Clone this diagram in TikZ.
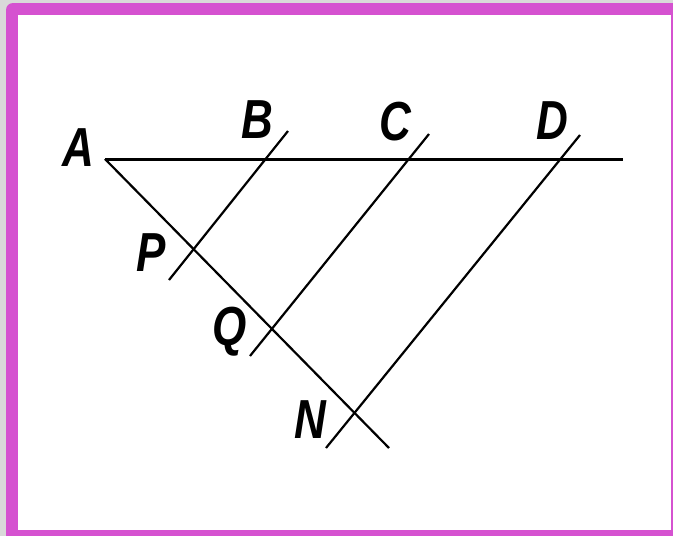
\documentclass[tikz,border=0pt]{standalone}
\usepackage{fontspec}
\setmainfont{Liberation Sans}
\definecolor{framepink}{RGB}{213,82,208}
\tikzset{
	pt label/.style={inner sep=0pt,font=\fontsize{44}{44}\selectfont\bfseries\itshape},
	segment/.style={line width=2.2pt},
}
\newcommand{\tallletter}[1]{\scalebox{1}[1.25]{#1}}

\begin{document}
\begin{tikzpicture}[x=1pt,y=-1pt]
	\useasboundingbox (0,0) rectangle (673,536);
	% frame
	\fill[gray!30] (0,0) rectangle (673,536);
	\fill[framepink,rounded corners=7pt] (6,570) rectangle (710,3);
	\fill[white] (18,15) rectangle (670.5,529.5);
	% points
	\coordinate (A) at (105,159);
	\coordinate (E) at (623,159);
	\coordinate (F) at (389,448);
	\coordinate (B) at (288,131);
	\coordinate (C) at (429,134);
	\coordinate (D) at (580,135);
	\coordinate (P) at (169,280);
	\coordinate (Q) at (250,356);
	\coordinate (N) at (326,448);
	% lines
	\draw[line width=3pt] (A) -- (E);
	\draw[segment] (A) -- (F);
	\foreach \u/\l in {B/P,C/Q,D/N}{ \draw[segment] (\u) -- (\l); }
	% labels
	\node[pt label] (lA) at (78,148) {\tallletter{A}};
	\node[pt label] (lB) at (257,120) {\tallletter{B}};
	\node[pt label] (lC) at (395,122) {\tallletter{C}};
	\node[pt label] (lD) at (552,121) {\tallletter{D}};
	\node[pt label] (lP) at (151,253) {\tallletter{P}};
	\node[pt label] (lQ) at (230,332) {\tallletter{Q}};
	\node[pt label] (lN) at (310,420) {\tallletter{N}};
\end{tikzpicture}
\end{document}
